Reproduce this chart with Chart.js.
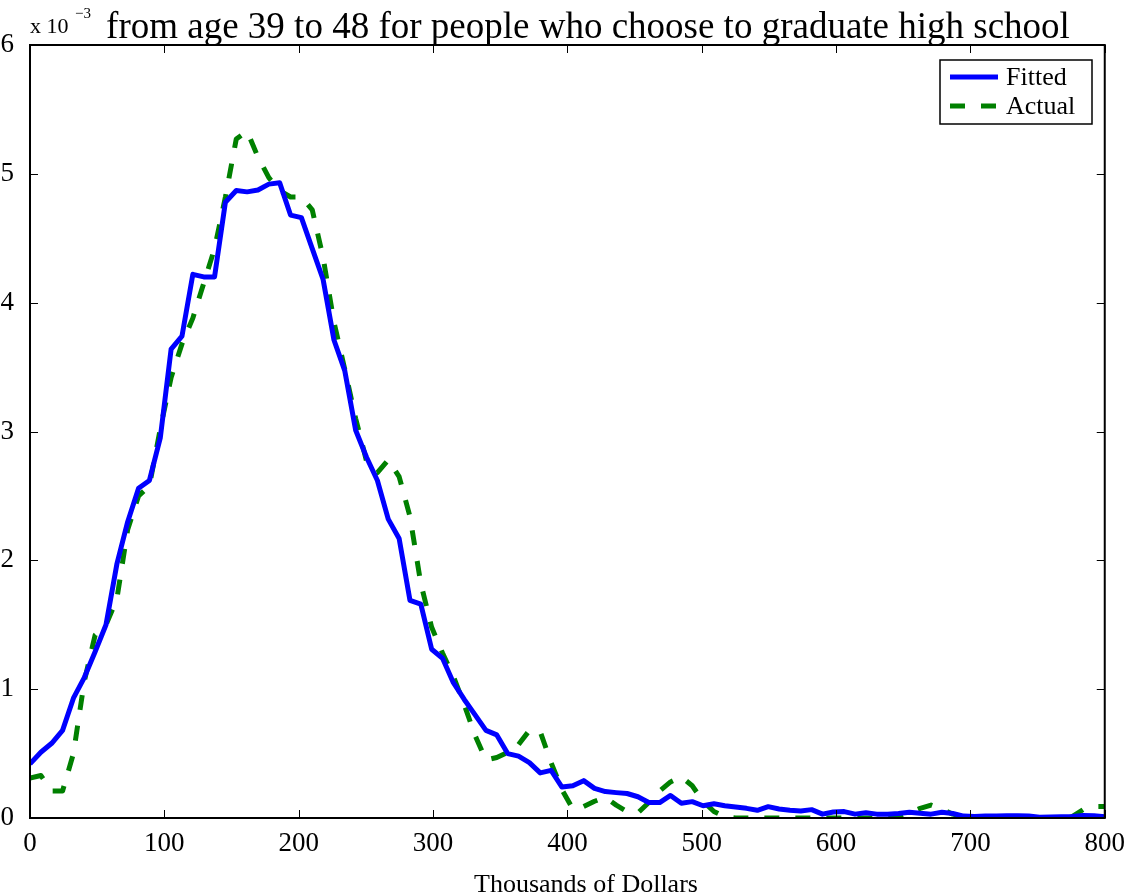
<!DOCTYPE html>
<html>
<head>
<meta charset="utf-8">
<script src="https://cdn.jsdelivr.net/npm/chart.js@4.4.1/dist/chart.umd.min.js"></script>
<style>
  html, body { margin: 0; padding: 0; background: #fff; }
  canvas { display: block; }
</style>
</head>
<body>
<canvas id="earnChart" width="1127" height="896"></canvas>
<script>
// x grid (thousands of dollars), 100 points from 0 to 800
const xValues = [
  0, 8.08, 16.16, 24.24, 32.32, 40.40, 48.48, 56.57, 64.65, 72.73,
  80.81, 88.89, 96.97, 105.05, 113.13, 121.21, 129.29, 137.37, 145.45, 153.54,
  161.62, 169.70, 177.78, 185.86, 193.94, 202.02, 210.10, 218.18, 226.26, 234.34,
  242.42, 250.51, 258.59, 266.67, 274.75, 282.83, 290.91, 298.99, 307.07, 315.15,
  323.23, 331.31, 339.39, 347.47, 355.56, 363.64, 371.72, 379.80, 387.88, 395.96,
  404.04, 412.12, 420.20, 428.28, 436.36, 444.44, 452.53, 460.61, 468.69, 476.77,
  484.85, 492.93, 501.01, 509.09, 517.17, 525.25, 533.33, 541.41, 549.49, 557.58,
  565.66, 573.74, 581.82, 589.90, 597.98, 606.06, 614.14, 622.22, 630.30, 638.38,
  646.46, 654.55, 662.63, 670.71, 678.79, 686.87, 694.95, 703.03, 711.11, 719.19,
  727.27, 735.35, 743.43, 751.52, 759.60, 767.68, 775.76, 783.84, 791.92, 800.00
];

// densities, in units of 10^-3
const fitted = [
  0.42, 0.51, 0.58, 0.68, 0.93, 1.09, 1.29, 1.50, 1.97, 2.30,
  2.56, 2.62, 2.95, 3.64, 3.74, 4.22, 4.20, 4.20, 4.78, 4.87,
  4.86, 4.875, 4.92, 4.93, 4.68, 4.66, 4.42, 4.18, 3.71, 3.47,
  3.01, 2.80, 2.62, 2.32, 2.17, 1.69, 1.66, 1.31, 1.24, 1.05,
  0.92, 0.80, 0.68, 0.645, 0.50, 0.48, 0.43, 0.35, 0.37, 0.24,
  0.25, 0.29, 0.23, 0.205, 0.197, 0.19, 0.165, 0.12, 0.12, 0.175,
  0.115, 0.127, 0.095, 0.11, 0.095, 0.085, 0.075, 0.06, 0.088, 0.07,
  0.06, 0.055, 0.065, 0.03, 0.047, 0.05, 0.03, 0.04, 0.03, 0.03,
  0.035, 0.044, 0.036, 0.03, 0.044, 0.035, 0.015, 0.012, 0.015, 0.015,
  0.018, 0.018, 0.015, 0.005, 0.008, 0.01, 0.012, 0.02, 0.018, 0.01
];

const actual = [
  0.31, 0.33, 0.21, 0.21, 0.50, 1.06, 1.42, 1.50, 1.70, 2.24,
  2.50, 2.58, 3.02, 3.42, 3.68, 3.88, 4.15, 4.42, 4.82, 5.27,
  5.33, 5.13, 4.97, 4.87, 4.82, 4.82, 4.72, 4.35, 3.85, 3.48,
  3.10, 2.77, 2.68, 2.78, 2.65, 2.34, 1.82, 1.48, 1.28, 1.10,
  0.88, 0.64, 0.45, 0.47, 0.51, 0.57, 0.68, 0.67, 0.43, 0.22,
  0.07, 0.09, 0.13, 0.16, 0.10, 0.05, 0.04, 0.12, 0.21, 0.28,
  0.32, 0.25, 0.13, 0.05, 0.01, 0, 0, 0, 0, 0,
  0, 0, 0, 0, 0, 0, 0, 0, 0, 0,
  0.01, 0.04, 0.075, 0.10, 0.07, 0.03, 0.01, 0, 0, 0,
  0, 0, 0, 0, 0, 0, 0.01, 0.065, 0.09, 0.09
];

const xTicks = [0, 100, 200, 300, 400, 500, 600, 700, 800];
const yTicks = [0, 1, 2, 3, 4, 5, 6];

const titleText = "from age 39 to 48 for people who choose to graduate high school";
const xLabel = "Thousands of Dollars";
const serif = "'Liberation Serif', 'DejaVu Serif', serif";

const toPoints = (ys) => ys.map((y, i) => ({ x: xValues[i], y: y }));

// matlab style frame, inward ticks, legend and text
const matlabDecor = {
  id: "matlabDecor",
  afterDraw(chart) {
    const { ctx, chartArea: a, scales } = chart;
    ctx.save();

    // ticks
    ctx.strokeStyle = "#000";
    ctx.lineWidth = 1;
    const tl = 8;
    ctx.beginPath();
    xTicks.forEach((t) => {
      const px = Math.round(scales.x.getPixelForValue(t)) + 0.5;
      ctx.moveTo(px, a.bottom); ctx.lineTo(px, a.bottom - tl);
      ctx.moveTo(px, a.top); ctx.lineTo(px, a.top + tl);
    });
    yTicks.forEach((t) => {
      const py = Math.round(scales.y.getPixelForValue(t)) + 0.5;
      ctx.moveTo(a.left, py); ctx.lineTo(a.left + tl, py);
      ctx.moveTo(a.right, py); ctx.lineTo(a.right - tl, py);
    });
    ctx.stroke();

    // box
    ctx.lineWidth = 2;
    ctx.strokeRect(a.left, a.top, a.right - a.left, a.bottom - a.top);

    // legend
    const lx = 940, ly = 60, lw = 152, lh = 64;
    ctx.fillStyle = "#fff";
    ctx.fillRect(lx, ly, lw, lh);
    ctx.lineWidth = 1.5;
    ctx.strokeStyle = "#000";
    ctx.strokeRect(lx, ly, lw, lh);
    const ds = chart.data.datasets;
    [77, 106].forEach((yy, i) => {
      ctx.strokeStyle = ds[i].borderColor;
      ctx.lineWidth = 5;
      ctx.setLineDash(ds[i].borderDash || []);
      ctx.beginPath();
      ctx.moveTo(950, yy);
      ctx.lineTo(998, yy);
      ctx.stroke();
      ctx.setLineDash([]);
      ctx.fillStyle = "#000";
      ctx.font = "26px " + serif;
      ctx.textAlign = "left";
      ctx.textBaseline = "middle";
      ctx.fillText(ds[i].label, 1006, yy + 1);
    });

    // title
    ctx.fillStyle = "#000";
    ctx.textAlign = "center";
    ctx.textBaseline = "alphabetic";
    ctx.font = "37px " + serif;
    ctx.fillText(titleText, 588, 38);

    // exponent label
    ctx.textAlign = "left";
    ctx.font = "22px " + serif;
    ctx.fillText("x 10", 30, 33);
    ctx.font = "15px " + serif;
    ctx.fillText("\u22123", 75, 18);

    // x axis label
    ctx.textAlign = "center";
    ctx.font = "26px " + serif;
    ctx.fillText(xLabel, 586, 892);

    ctx.restore();
  }
};

new Chart(document.getElementById("earnChart"), {
  type: "line",
  data: {
    datasets: [
      {
        label: "Fitted",
        data: toPoints(fitted),
        borderColor: "#0000ff",
        borderWidth: 5,
        fill: false,
      },
      {
        label: "Actual",
        data: toPoints(actual),
        borderColor: "#008000",
        borderWidth: 5,
        borderDash: [15, 16],
        fill: false,
      },
    ],
  },
  options: {
    responsive: false,
    animation: false,
    devicePixelRatio: 1,
    layout: { padding: { top: 45, right: 22, left: 0, bottom: 0 } },
    elements: {
      point: { radius: 0 },
      line: { tension: 0, borderJoinStyle: "round", borderCapStyle: "butt" },
    },
    plugins: {
      legend: { display: false },
      tooltip: { enabled: false },
    },
    scales: {
      x: {
        type: "linear",
        min: 0,
        max: 800,
        afterBuildTicks: (s) => { s.ticks = xTicks.map((v) => ({ value: v })); },
        afterFit: (s) => { s.height = 78; },
        grid: { display: false },
        border: { display: false },
        ticks: {
          color: "#000",
          padding: 2,
          maxRotation: 0,
          font: { family: serif, size: 27 },
        },
      },
      y: {
        type: "linear",
        min: 0,
        max: 6,
        afterBuildTicks: (s) => { s.ticks = yTicks.map((v) => ({ value: v })); },
        afterFit: (s) => { s.width = 30; },
        grid: { display: false },
        border: { display: false },
        ticks: {
          color: "#000",
          padding: 8,
          font: { family: serif, size: 27 },
        },
      },
    },
  },
  plugins: [matlabDecor],
});
</script>
</body>
</html>
